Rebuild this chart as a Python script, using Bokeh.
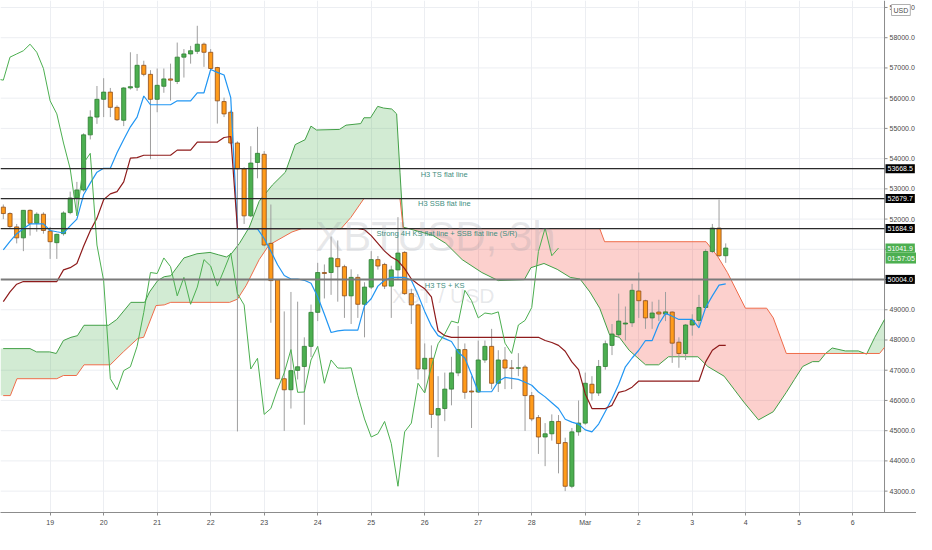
import numpy as np

from bokeh.embed import file_html
from bokeh.models import FixedTicker, Label, Range1d
from bokeh.plotting import figure
from bokeh.resources import INLINE

# 3h bars of XBTUSD, bar 0 = 19 Feb 00:00, first bar on screen is bar -7
bar_first = -7
bar_open = [
    52395, 52183, 51742, 51379, 52289, 51861, 52160, 51604, 51219, 51517,
    52215, 52697, 52964, 54786, 55374, 55962, 56200, 55696, 55268, 56338,
    56361, 57087, 56788, 55962, 56393, 56637, 56554, 57357, 57463, 57550,
    57785, 57518, 57013, 55888, 55535, 54516, 53661, 52106, 53873, 54143,
    51196, 49997, 46719, 46353, 46995, 47124, 47789, 48914, 50232, 50232,
    50691, 50425, 49460, 50071, 49181, 49750, 50659, 50499, 49782, 50319,
    50897, 49534, 49161, 47040, 47394, 45517, 45732, 46375, 46912, 47683,
    46311, 46279, 47339, 47789, 46568, 47339, 47072, 47066, 47105, 46160,
    45433, 44791, 44897, 45305, 44607, 43161, 44961, 45250, 46536, 46246,
    47124, 47821, 48175, 48528, 48570, 49621, 49300, 48731, 48924, 48859,
    48924, 47927, 47554, 48496, 48647, 49075, 50929, 51701, 50788,
]
bar_high = [
    52482, 52224, 51839, 52300, 52320, 52224, 52224, 51742, 51517, 52257,
    52909, 53231, 54837, 55599, 56403, 56660, 56338, 55760, 56361, 57518,
    57463, 57238, 56927, 56981, 56981, 57142, 57839, 57624, 57730, 58395,
    57839, 57624, 57036, 56017, 55599, 54571, 53713, 54410, 55053, 54249,
    52482, 50007, 48946, 49589, 49268, 48088, 49171, 50553, 50499, 51421,
    51292, 50489, 50338, 50177, 49910, 50939, 50778, 50553, 50457, 52064,
    50939, 49695, 49200, 47886, 47821, 46802, 46921, 47445, 48464, 47886,
    46802, 47982, 47982, 48368, 47661, 47767, 47339, 47564, 47178, 46279,
    45517, 45250, 45539, 45517, 44768, 45089, 45999, 46921, 46802, 47339,
    47982, 48528, 49534, 49107, 49856, 50232, 49332, 49268, 49332, 49589,
    48946, 48088, 48528, 48850, 49493, 51003, 51839, 52642, 51196,
]
bar_low = [
    51999, 51678, 51196, 50939, 51453, 51582, 51517, 50682, 50682, 51453,
    52160, 52266, 52909, 54635, 55149, 55374, 55374, 55246, 55075, 56284,
    56242, 56724, 53983, 55535, 56178, 55921, 56467, 56682, 57142, 57463,
    57036, 56927, 55159, 55374, 54474, 44975, 51839, 52064, 53349, 51100,
    48570, 46696, 44993, 45732, 46696, 45195, 47436, 48625, 49374, 49493,
    49268, 48731, 48528, 48731, 48088, 49685, 50328, 49685, 48731, 50016,
    49493, 48528, 46696, 46279, 45089, 44125, 45314, 45838, 46802, 46054,
    45089, 46250, 47243, 46375, 46279, 46375, 46375, 46802, 44993, 45314,
    44231, 43826, 44672, 43588, 43000, 43097, 44832, 45195, 45999, 46150,
    47018, 47500, 48088, 47982, 48432, 48731, 48368, 48368, 48625, 48625,
    47243, 47082, 47339, 48143, 48464, 49043, 50875, 50746, 50553,
]
bar_close = [
    52183, 51752, 51379, 52289, 51861, 52160, 51623, 51251, 51495, 52202,
    52697, 52964, 54786, 55374, 55962, 56200, 55696, 55287, 56338, 56380,
    57087, 56788, 55962, 56425, 56637, 56596, 57357, 57463, 57569, 57785,
    57518, 56981, 55911, 55480, 54516, 53661, 52106, 53854, 54175, 51141,
    49965, 46719, 46353, 46986, 47114, 47789, 48914, 50232, 50200, 50714,
    50425, 49460, 50071, 49181, 49750, 50659, 50447, 49782, 50319, 50875,
    49534, 49161, 47040, 47394, 45539, 45732, 46375, 46912, 47683, 46269,
    46279, 47339, 47789, 46568, 47339, 47072, 47066, 47080, 46160, 45388,
    44791, 44897, 45305, 44575, 43161, 44961, 45250, 46568, 46246, 47124,
    47876, 48197, 48625, 48561, 49643, 49300, 48731, 48892, 48859, 48930,
    47895, 47554, 48496, 48647, 49075, 50929, 51701, 50788, 51041.9,
]

# Ichimoku lines, one value per bar
tenkan = [
    50980, 51260, 51517, 51678, 51839, 51839, 51839, 51623, 51581, 51540,
    51775, 52000, 52803, 53189, 53552, 53680, 53680, 54195, 54635, 55053,
    55374, 56072, 55782, 55782, 55782, 55782, 55911, 55911, 55911, 56178,
    56178, 56949, 56853, 56766, 56017, 51678, 51678, 51678, 51678, 51357,
    50939, 50489, 50135, 50017, 50017, 49975, 49878, 49428, 48850, 48249,
    48303, 48326, 48326, 48326, 49139, 49364, 49782, 49975, 50071, 50071,
    50071, 49975, 49493, 48946, 48464, 48143, 48046, 47950, 47596, 47404,
    46857, 46288, 46288, 46288, 46632, 46761, 46729, 46696, 46600, 46503,
    46278, 46118, 45925, 45732, 45378, 45282, 45218, 45025, 44961, 45218,
    45636, 46054, 46535, 47114, 47404, 47661, 47982, 47982, 48529, 48882,
    48786, 48679, 48679, 48679, 48400, 49075, 49460, 49814, 49856,
]
kijun = [
    49268, 49589, 49846, 49933, 49933, 49933, 49933, 49933, 49933, 50318,
    50393, 50531, 51100, 51614, 52032, 52642, 52835, 52909, 53231, 54015,
    54034, 54111, 54111, 54111, 54111, 54111, 54281, 54281, 54281, 54548,
    54548, 54548, 54548, 54699, 54731, 51685, 51685, 51685, 51685, 51685,
    51685, 51685, 51685, 51685, 51685, 51685, 51685, 51685, 51685, 51685,
    51685, 51685, 51685, 51685, 51646, 51453, 51196, 50939, 50746, 50618,
    50360, 50017, 49846, 49695, 49428, 48303, 48143, 48088, 48088, 48088,
    48088, 48088, 48088, 48088, 48088, 48088, 48088, 48088, 48088, 48088,
    48088, 47982, 47918, 47821, 47629, 47275, 47018, 46215, 45732, 45732,
    45732, 45838, 46269, 46320, 46439, 46642, 46642, 46642, 46642, 46642,
    46642, 46642, 46642, 46642, 46642, 47275, 47661, 47821, 47821,
]
chikou_shift = 25

# cloud edges (already displaced forward), bar position / price
span_a_bar = [
    -7.02, -3.01, -2.03, -0.07, 0.91, 1.98, 3.11, 4.08, 5.07, 8.74,
    9.96, 12.07, 14.13, 14.86, 16.08, 17.06, 18.03, 20.0, 21.95, 23.9,
    25.14, 26.36, 27.09, 28.3, 29.78, 31.25, 33.22, 35.17, 36.64, 38.11,
    38.99, 39.82, 43.25, 44.23, 46.43, 46.92, 47.9, 48.97, 49.85, 51.07,
    51.8, 52.3, 52.79, 57.2, 59.15, 61.6, 64.54, 66.99, 70.9, 71.88,
    73.83, 75.8, 77.75, 79.22, 80.69, 82.16, 83.63, 85.1, 86.56, 89.02,
    90.97, 92.44, 96.84, 98.31, 100.76, 102.23, 103.7, 105.9, 108.1, 110.06,
    111.28, 112.51, 113.98, 114.95, 115.93, 116.92, 118.87, 120.82, 122.06, 123.28,
    124.74,
]
span_a = [
    47715, 47715, 47606, 47606, 47554, 47982, 48088, 48143, 48487, 48487,
    48679, 49245, 49245, 49589, 49965, 50094, 50126, 50714, 50852, 50897,
    50820, 50746, 50852, 51196, 51733, 52588, 53124, 53552, 54465, 54625,
    55075, 54947, 54966, 55107, 55159, 55352, 55352, 55728, 55673, 55641,
    55480, 53552, 51733, 51463, 51196, 50659, 50232, 49965, 49997, 50392,
    50531, 50338, 50071, 50017, 49589, 49052, 48175, 48088, 47661, 47179,
    47179, 47445, 47445, 47124, 46802, 46375, 45947, 45356, 45626, 46269,
    46696, 47124, 47284, 47284, 47554, 47735, 47638, 47638, 47532, 48088,
    48679,
]
span_b_bar = [
    -7.02, -5.95, -4.96, 1.0, 1.98, 3.94, 5.07, 8.99, 10.94, 13.14,
    13.98, 15.83, 17.06, 18.03, 26.84, 28.0, 29.3, 31.25, 32.72, 36.15,
    37.62, 43.5, 44.96, 46.92, 52.3, 52.79, 82.16, 82.89, 98.06, 99.78,
    101.25, 103.94, 107.12, 108.11, 110.06, 124.0, 124.74,
]
span_b = [
    46160, 46160, 46719, 46719, 46825, 46825, 47179, 47179, 47606, 48056,
    48088, 49139, 49161, 49245, 49245, 49350, 49800, 50659, 51141, 51572,
    51685, 51685, 52054, 52680, 52680, 51685, 51685, 51251, 51251, 50769,
    50232, 49052, 49052, 48731, 47554, 47554, 47757,
]

level_prices = [53668.5, 52679.7, 51684.9, 50004.0]
level_notes = [
    "H3 TS flat line",
    "H3 SSB flat line",
    "Strong 4H KS flat line + SSB flat line (S/R)",
    "H3 TS + KS",
]
day_ticks = [0, 8, 16, 24, 32, 40, 48, 56, 64, 72, 80, 88, 96, 104, 112, 120]
day_labels = ["19", "20", "21", "22", "23", "24", "25", "26", "27", "28",
              "Mar", "2", "3", "4", "5", "6"]
price_ticks = list(range(43000, 60000, 1000))
countdown = "01:57:05"

FONT = "Liberation Sans"
x_lo, x_hi = -7.42, 124.74      # chart pane
x_scale_end = 129.52            # pane + price scale strip on the right
y_lo, y_hi = 42293, 59231
tick_len = 0.45

p = figure(
    width=916, height=534,
    x_range=Range1d(x_lo, x_scale_end), y_range=Range1d(y_lo, y_hi),
    output_backend="svg", toolbar_location=None,
    min_border_left=0, min_border_top=0, min_border_right=0, min_border_bottom=22,
    background_fill_color="white", border_fill_color="white",
    outline_line_color=None,
)

# time axis below, price scale drawn inside the frame strip on the right
p.yaxis.visible = False
p.ygrid.visible = False
p.xaxis.ticker = FixedTicker(ticks=day_ticks)
p.xaxis.major_label_overrides = dict(zip(day_ticks, day_labels))
ax = p.xaxis[0]
ax.major_label_text_font = FONT
ax.major_label_text_font_size = "7px"
ax.major_label_text_color = "#4a4a4a"
ax.axis_line_color = "#8c8c8c"
ax.major_tick_line_color = "#8c8c8c"
ax.major_tick_out = 3
ax.major_tick_in = 0
ax.minor_tick_line_color = None
ax.major_label_standoff = 3
p.xgrid.grid_line_color = "#eceef2"

p.segment(x0=x_lo, y0=price_ticks, x1=x_hi, y1=price_ticks,
          line_color="#eceef2", line_width=1)
p.segment(x0=x_hi, y0=y_lo, x1=x_hi, y1=y_hi, line_color="#8c8c8c", line_width=1)
p.segment(x0=x_hi, y0=price_ticks, x1=x_hi + tick_len, y1=price_ticks,
          line_color="#8c8c8c", line_width=1)
p.text(x=x_hi, y=price_ticks, text=[f"{v:.1f}" for v in price_ticks], x_offset=5,
       text_font_size="7px", text_color="#4a4a4a", text_baseline="middle",
       text_font={"value": FONT})

# watermark
p.add_layout(Label(x=57.6, y=51421, text="XBTUSD, 3h", text_align="center",
                   text_baseline="middle", text_font=FONT, text_font_size="42px",
                   text_color="#9598a1", text_alpha=0.22))
p.add_layout(Label(x=58.8, y=49460, text="XBT / USD", text_align="center",
                   text_baseline="middle", text_font=FONT, text_font_size="21px",
                   text_color="#9598a1", text_alpha=0.22))

# kumo
grid = np.linspace(x_lo, x_hi, 2700)
a_line = np.interp(grid, span_a_bar, span_a)
b_line = np.interp(grid, span_b_bar, span_b)
top = np.maximum(a_line, b_line)
p.varea(x=grid, y1=b_line, y2=top, fill_color="#4caf50", fill_alpha=0.25)
p.varea(x=grid, y1=a_line, y2=top, fill_color="#f44336", fill_alpha=0.25)
p.line(span_a_bar, span_a, line_color="#43a047", line_width=1)
p.line(span_b_bar, span_b, line_color="#ef6c4a", line_width=1)

# candles
bars = np.arange(bar_first, bar_first + len(bar_close))
o = np.array(bar_open, dtype=float)
c = np.array(bar_close, dtype=float)
up = c >= o
p.segment(bars, bar_high, bars, bar_low, line_color="#9e9e9e", line_width=1)
p.vbar(x=bars[up], width=0.62, top=c[up], bottom=o[up],
       fill_color="#4caf50", line_color="#2e7d32", line_width=0.8)
p.vbar(x=bars[~up], width=0.62, top=o[~up], bottom=c[~up],
       fill_color="#ff9b1a", line_color="#8d4e1e", line_width=0.8)

# tenkan, kijun, chikou
p.line(bars, tenkan, line_color="#2196f3", line_width=1.2)
p.line(bars, kijun, line_color="#8e1b1b", line_width=1.2)
p.line(bars - chikou_shift, bar_close, line_color="#4caf50", line_width=1)

# levels with notes and price tags on the scale
note_pos = [(55.4, 53478), (55.0, 52514), (48.8, 51517), (56.0, 49814)]


def tag(price, text, color, dy=0):
    p.add_layout(Label(x=x_hi, y=price, x_offset=1, y_offset=dy, text=text,
                       text_font=FONT, text_font_size="7px", text_color="white",
                       text_baseline="middle", background_fill_color=color,
                       padding=2))


for price, note, (nx, ny) in zip(level_prices, level_notes, note_pos):
    heavy = price == level_prices[-1]
    p.segment(x0=x_lo, y0=price, x1=x_hi, y1=price,
              line_color="#7a7a7a" if heavy else "#2b2b2b",
              line_width=2 if heavy else 1.2)
    p.add_layout(Label(x=nx, y=ny, text=note, text_font=FONT, text_font_size="7.5px",
                       text_color="#3f8f7f", text_baseline="middle"))
    tag(price, f"{price:.1f}", "black")

last = bar_close[-1]
tag(last, f"{last:.1f}", "#4caf50")
tag(last, countdown, "#4caf50", dy=-10)
p.add_layout(Label(x=x_hi, y=y_hi, x_offset=7, y_offset=-15, text="USD", text_font=FONT,
                   text_font_size="7px", text_color="#4a4a4a",
                   background_fill_color="white", border_line_color="#b0b0b0",
                   padding=2))

open("out.html", "w").write(file_html(p, INLINE))
